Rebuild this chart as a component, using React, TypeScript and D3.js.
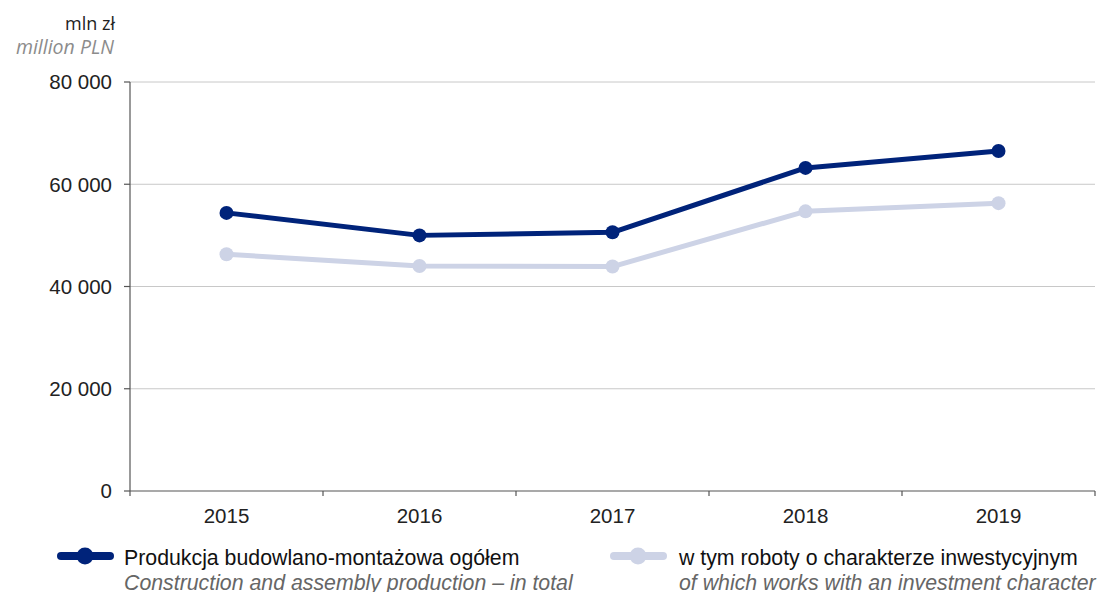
import React from "react";
import * as d3 from "d3";

const years = ["2015", "2016", "2017", "2018", "2019"];
const totalValues = [54400, 50000, 50600, 63200, 66500];
const investValues = [46300, 44000, 43900, 54700, 56300];
const yTicks = [0, 20000, 40000, 60000, 80000];

const W = 1100;
const H = 592;
const DARK = "#00237a";
const LIGHT = "#cdd3e6";
const FONT = "'Liberation Sans', Arial, sans-serif";
const UNIT_FONT = "'Open Sans', sans-serif";

const App: React.FC = () => {
  const x = d3.scaleBand<string>().domain(years).range([130, 1095]);
  const y = d3.scaleLinear().domain([0, 80000]).range([491, 82]);
  const fmt = (v: number) => d3.format(",")(v).replace(/,/g, " ");
  const cx = (i: number) => (x(years[i]) as number) + x.bandwidth() / 2;

  const line = d3
    .line<number>()
    .x((_, i) => cx(i))
    .y((d) => y(d));

  const series = [
    { values: investValues, color: LIGHT },
    { values: totalValues, color: DARK },
  ];

  const tickEdges = years.map((yr) => x(yr) as number).concat([x.range()[1]]);

  return (
    <svg
      width={W}
      height={H}
      style={{ position: "absolute", left: 0, top: 0, background: "#fff" }}
    >
      {/* unit labels */}
      <text x={115} y={30} textAnchor="end" fontFamily={UNIT_FONT} fontSize={18} fontWeight={500} fill="#222">
        mln zł
      </text>
      <text x={114} y={54} textAnchor="end" fontFamily={UNIT_FONT} fontSize={19.5} fontStyle="italic" fill="#8c8c8c">
        million PLN
      </text>

      {/* gridlines */}
      {yTicks.slice(1).map((t) => (
        <line key={t} x1={130} x2={1095} y1={y(t)} y2={y(t)} stroke="#c8c8c8" strokeWidth={1} />
      ))}

      {/* y axis */}
      <line x1={130} x2={130} y1={y(80000)} y2={y(0)} stroke="#555" strokeWidth={1.2} />
      {yTicks.map((t) => (
        <g key={t}>
          <line x1={124} x2={130} y1={y(t)} y2={y(t)} stroke="#555" strokeWidth={1.2} />
          <text x={112} y={y(t) + 7.3} textAnchor="end" fontFamily={FONT} fontSize={20.5} fill="#222">
            {fmt(t)}
          </text>
        </g>
      ))}

      {/* x axis */}
      <line x1={130} x2={1095} y1={y(0)} y2={y(0)} stroke="#555" strokeWidth={1.2} />
      {tickEdges.map((e, i) => (
        <line key={i} x1={e} x2={e} y1={y(0)} y2={y(0) + 5} stroke="#555" strokeWidth={1.2} />
      ))}
      {years.map((yr, i) => (
        <text key={yr} x={cx(i)} y={523} textAnchor="middle" fontFamily={FONT} fontSize={20.5} fill="#222">
          {yr}
        </text>
      ))}

      {/* series */}
      {series.map((s, si) => (
        <g key={si}>
          <path d={line(s.values) || ""} fill="none" stroke={s.color} strokeWidth={5} strokeLinejoin="round" />
          {s.values.map((v, i) => (
            <circle key={i} cx={cx(i)} cy={y(v)} r={7} fill={s.color} />
          ))}
        </g>
      ))}

      {/* legend */}
      <g>
        <line x1={61} x2={110} y1={556} y2={556} stroke={DARK} strokeWidth={8} strokeLinecap="round" />
        <circle cx={85} cy={556} r={8.5} fill={DARK} />
        <text x={124} y={565} fontFamily={FONT} fontSize={21.3} fill="#111">
          Produkcja budowlano-montażowa ogółem
        </text>
        <text x={124} y={590} fontFamily={FONT} fontSize={21.3} fontStyle="italic" fill="#666">
          Construction and assembly production – in total
        </text>

        <line x1={614} x2={663} y1={556} y2={556} stroke={LIGHT} strokeWidth={8} strokeLinecap="round" />
        <circle cx={638} cy={556} r={8.5} fill={LIGHT} />
        <text x={679} y={565} fontFamily={FONT} fontSize={21.3} fill="#111">
          w tym roboty o charakterze inwestycyjnym
        </text>
        <text x={679} y={590} fontFamily={FONT} fontSize={21.3} fontStyle="italic" fill="#666">
          of which works with an investment character
        </text>
      </g>
    </svg>
  );
};

export default App;
